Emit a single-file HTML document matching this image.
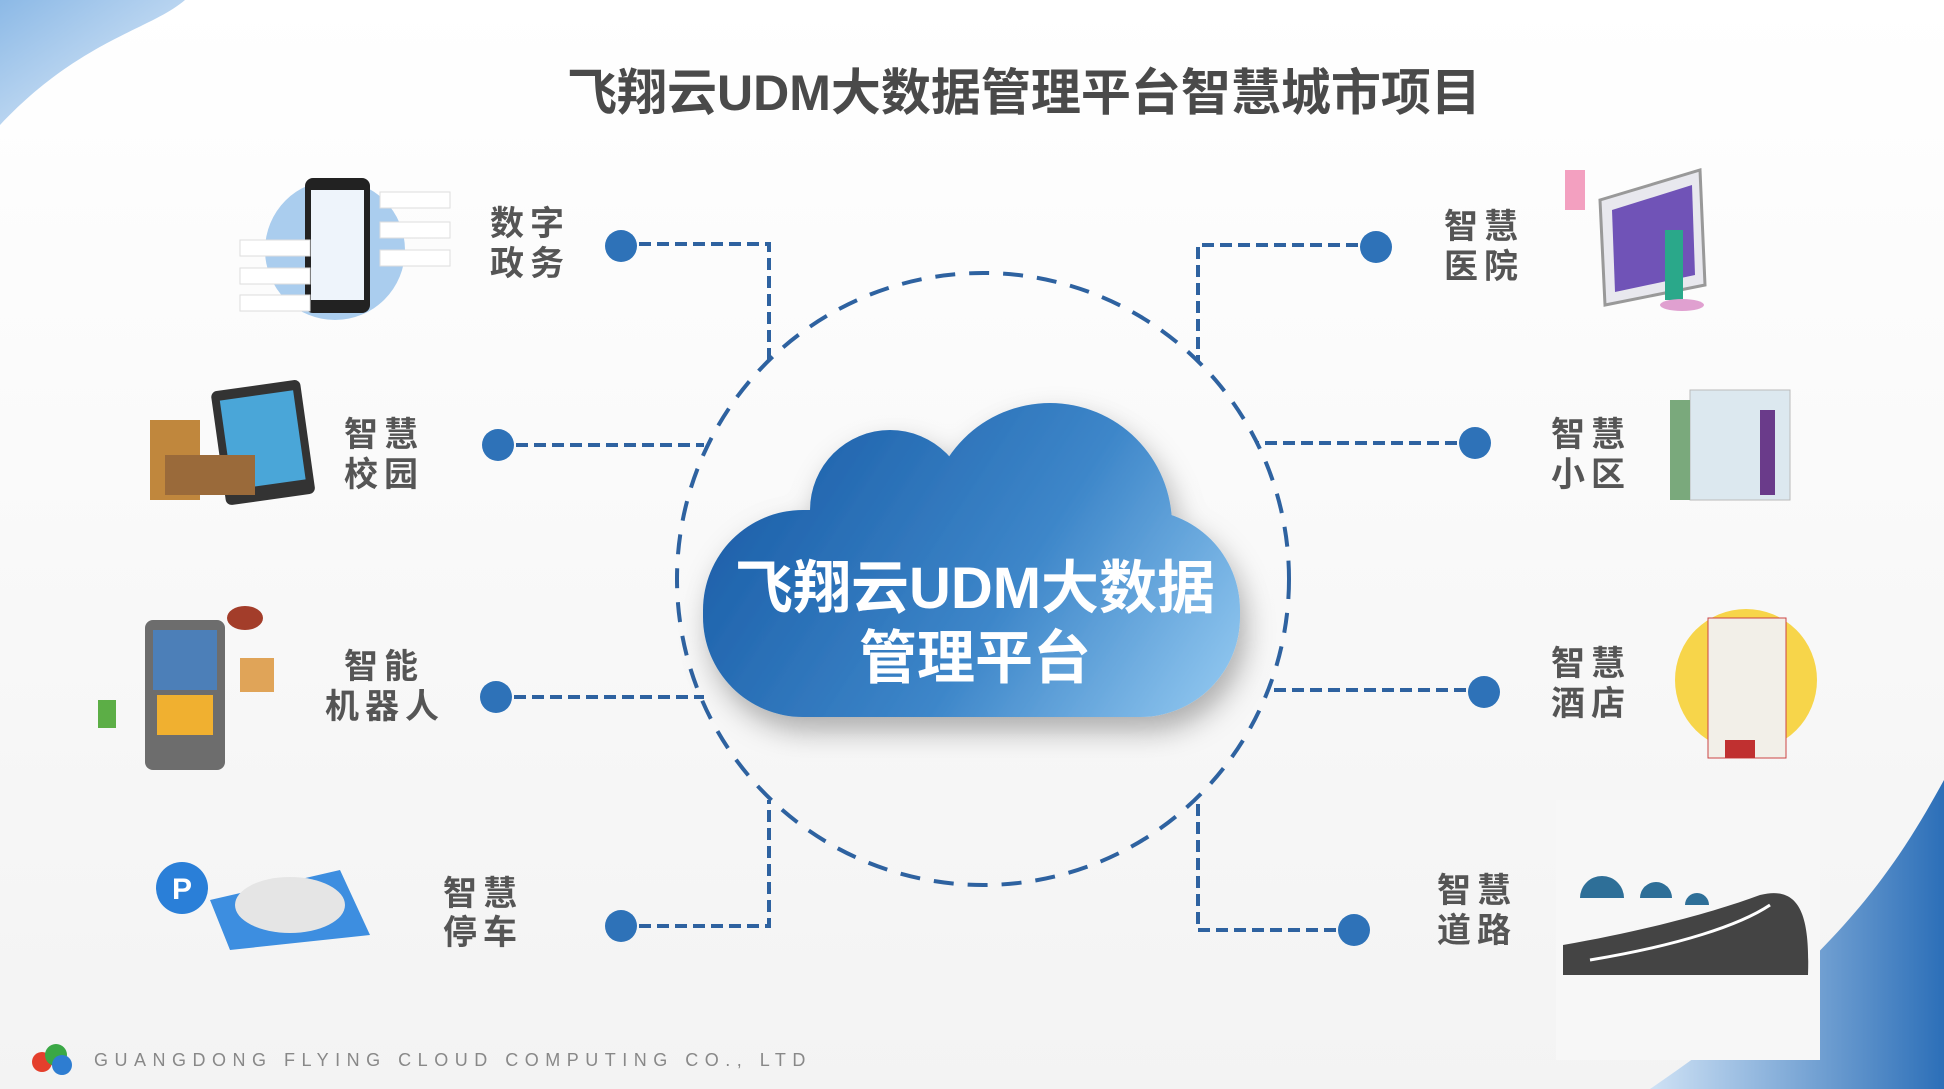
<!DOCTYPE html>
<html><head><meta charset="utf-8">
<style>
html,body{margin:0;padding:0;background:#fff;}
svg{display:block;}
text{font-family:"Liberation Sans","Noto Sans CJK SC",sans-serif;}
</style></head>
<body>
<svg width="1944" height="1089" viewBox="0 0 1944 1089" xmlns="http://www.w3.org/2000/svg">
<defs>
<linearGradient id="bg" x1="0" y1="0" x2="0" y2="1"><stop offset="0" stop-color="#ffffff"/><stop offset="1" stop-color="#f3f3f3"/></linearGradient>
<linearGradient id="cl" gradientUnits="userSpaceOnUse" x1="760" y1="420" x2="1220" y2="720"><stop offset="0" stop-color="#1b5ea8"/><stop offset="0.55" stop-color="#3d86c9"/><stop offset="1" stop-color="#92c8f0"/></linearGradient>
<linearGradient id="tl" x1="0" y1="0" x2="1" y2="1"><stop offset="0" stop-color="#8cb9e6"/><stop offset="1" stop-color="#e4effa"/></linearGradient>
<linearGradient id="br" x1="0" y1="0" x2="1" y2="0"><stop offset="0" stop-color="#cfe2f5"/><stop offset="1" stop-color="#2c6fb8"/></linearGradient>
<filter id="sh" x="-20%" y="-20%" width="140%" height="150%"><feDropShadow dx="6" dy="14" stdDeviation="14" flood-color="#000" flood-opacity="0.3"/></filter>
</defs>
<rect width="1944" height="1089" fill="url(#bg)"/>
<path d="M0 0 L185 0 C150 30 80 40 0 125 Z" fill="url(#tl)"/>
<path d="M1944 780 C1900 860 1840 960 1650 1089 L1944 1089 Z" fill="url(#br)"/>
<text x="1024" y="110" text-anchor="middle" font-size="50" font-weight="bold" fill="#4a4a4a">飞翔云UDM大数据管理平台智慧城市项目</text>

<circle cx="983" cy="579" r="306" fill="none" stroke="#2e62a0" stroke-width="4" stroke-dasharray="20 14"/>

<g fill="none" stroke="#2e62a0" stroke-width="4" stroke-dasharray="12 6">
<path d="M621 244 H769 V362"/>
<path d="M498 445 H704"/>
<path d="M496 697 H704"/>
<path d="M621 926 H769 V800"/>
<path d="M1376 245 H1198 V362"/>
<path d="M1475 443 H1258"/>
<path d="M1484 690 H1267"/>
<path d="M1354 930 H1198 V800"/>
</g>
<g fill="#2e72b8">
<circle cx="621" cy="246" r="16"/><circle cx="498" cy="445" r="16"/><circle cx="496" cy="697" r="16"/><circle cx="621" cy="926" r="16"/>
<circle cx="1376" cy="247" r="16"/><circle cx="1475" cy="443" r="16"/><circle cx="1484" cy="692" r="16"/><circle cx="1354" cy="930" r="16"/>
</g>

<g filter="url(#sh)" fill="url(#cl)">
<rect x="703" y="510" width="537" height="207" rx="100"/>
<circle cx="890" cy="510" r="80"/>
<circle cx="1050" cy="525" r="122"/>
<rect x="815" y="500" width="150" height="60"/>
</g>
<text x="975" y="608" text-anchor="middle" font-size="58" font-weight="bold" fill="#fff">飞翔云UDM大数据</text>
<text x="975" y="678" text-anchor="middle" font-size="58" font-weight="bold" fill="#fff">管理平台</text>

<g font-size="34" font-weight="bold" fill="#555" letter-spacing="6">
<text x="490" y="235">数字</text><text x="490" y="275">政务</text>
<text x="344" y="446">智慧</text><text x="344" y="486">校园</text>
<text x="344" y="678">智能</text><text x="325" y="718">机器人</text>
<text x="443" y="905">智慧</text><text x="443" y="944">停车</text>
<text x="1444" y="238">智慧</text><text x="1444" y="278">医院</text>
<text x="1551" y="446">智慧</text><text x="1551" y="486">小区</text>
<text x="1551" y="675">智慧</text><text x="1551" y="715">酒店</text>
<text x="1437" y="902">智慧</text><text x="1437" y="942">道路</text>
</g>

<circle cx="335" cy="250" r="70" fill="#aacdee"/>
<rect x="305" y="178" width="65" height="135" rx="8" fill="#222"/><rect x="311" y="190" width="53" height="110" fill="#eef4fb"/>
<g fill="#fff" stroke="#ddd"><rect x="240" y="240" width="70" height="16"/><rect x="240" y="268" width="70" height="16"/><rect x="240" y="295" width="70" height="16"/><rect x="380" y="192" width="70" height="16"/><rect x="380" y="222" width="70" height="16"/><rect x="380" y="250" width="70" height="16"/></g>
<rect x="218" y="385" width="90" height="115" rx="6" fill="#333" transform="rotate(-8 263 442)"/><rect x="226" y="395" width="74" height="90" fill="#4aa6d8" transform="rotate(-8 263 442)"/>
<rect x="150" y="420" width="50" height="80" fill="#c0873d"/><rect x="165" y="455" width="90" height="40" fill="#9a6a3a"/>
<rect x="145" y="620" width="80" height="150" rx="8" fill="#6d6d6d"/><rect x="153" y="630" width="64" height="60" fill="#4c7fb8"/><rect x="157" y="695" width="56" height="40" fill="#f0b030"/>
<rect x="240" y="658" width="34" height="34" fill="#e0a458"/><ellipse cx="245" cy="618" rx="18" ry="12" fill="#a33d2a"/><rect x="98" y="700" width="18" height="28" fill="#5cae46"/>
<path d="M210 900 L340 870 L370 935 L230 950 Z" fill="#3d8ee0"/><ellipse cx="290" cy="905" rx="55" ry="28" fill="#e5e5e5"/>
<circle cx="182" cy="888" r="26" fill="#2a7fd8"/><text x="182" y="899" text-anchor="middle" font-size="30" font-weight="bold" fill="#fff">P</text>
<polygon points="1600,200 1700,170 1705,285 1605,305" fill="#e8e8ee" stroke="#999" stroke-width="3"/>
<polygon points="1612,210 1692,185 1695,275 1615,292" fill="#7053b7"/>
<rect x="1565" y="170" width="20" height="40" fill="#f3a0c0"/><rect x="1665" y="230" width="18" height="70" fill="#2aa88a"/><ellipse cx="1682" cy="305" rx="22" ry="6" fill="#e0a0d0"/>
<rect x="1690" y="390" width="100" height="110" fill="#dce8ef" stroke="#bbb"/><rect x="1670" y="400" width="20" height="100" fill="#7aa97c"/><rect x="1760" y="410" width="15" height="85" fill="#6a3b8a"/>
<circle cx="1746" cy="680" r="71" fill="#f7d54a"/><rect x="1708" y="618" width="78" height="140" fill="#f2efe8" stroke="#c44"/><rect x="1725" y="740" width="30" height="18" fill="#c03030"/>
<rect x="1556" y="800" width="264" height="260" fill="#f7f7f7"/>
<path d="M1563 975 L1563 945 C1650 930 1720 910 1760 895 C1800 885 1810 915 1808 975 Z" fill="#444"/>
<path d="M1590 960 C1680 945 1740 925 1770 905" stroke="#fff" stroke-width="3" fill="none"/>
<path d="M1580 898 a22 22 0 0 1 44 0 Z" fill="#2e6f98"/><path d="M1640 898 a16 16 0 0 1 32 0 Z" fill="#2e6f98"/><path d="M1685 905 a12 12 0 0 1 24 0 Z" fill="#2e6f98"/>

<circle cx="42" cy="1062" r="10" fill="#e43f2c"/><circle cx="56" cy="1055" r="11" fill="#3aa845"/><circle cx="62" cy="1065" r="10" fill="#2e7dd1"/>
<text x="94" y="1066" font-size="18" fill="#888" letter-spacing="6.5">GUANGDONG FLYING CLOUD COMPUTING CO., LTD</text>
</svg>
</body></html>
